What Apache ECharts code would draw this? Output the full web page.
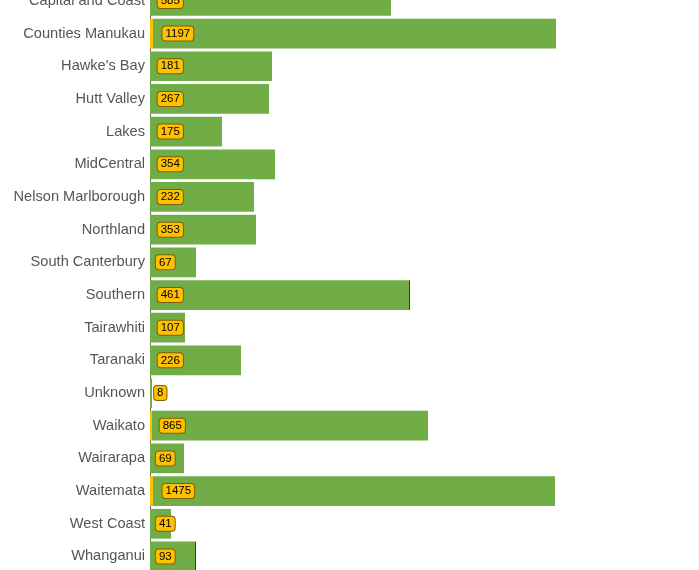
<!DOCTYPE html>
<html>
<head>
<meta charset="utf-8">
<script src="https://cdn.jsdelivr.net/npm/echarts@6/dist/echarts.min.js"></script>
<style>html,body{margin:0;padding:0;background:#fff;}#c{width:699px;height:570px;}</style>
</head>
<body>
<div id="c"></div>
<script>
// Categories (top ones are scrolled out of view in the reference)
var categories = ["Auckland","Bay of Plenty","Canterbury","Capital and Coast","Counties Manukau","Hawke's Bay","Hutt Valley","Lakes","MidCentral","Nelson Marlborough","Northland","South Canterbury","Southern","Tairawhiti","Taranaki","Unknown","Waikato","Wairarapa","Waitemata","West Coast","Whanganui"];
// Stacked bar segments (estimated)
var activeValues    = [3, 0, 0, 0, 3, 0, 0, 0, 0, 0, 0, 0, 0, 0, 0, 0, 2, 0, 3, 0, 0];
var recoveredValues = [420, 150, 260, 241, 403, 122, 119, 72, 125, 104, 106, 46, 259, 35, 91, 2, 276, 34, 402, 21, 45];
var deceasedValues  = [1, 0, 1, 0, 0, 0, 0, 0, 0, 0, 0, 0, 1, 0, 0, 0, 0, 0, 0, 0, 1];
// Label values shown in yellow boxes
var labelValues = [1750, 520, 620, 585, 1197, 181, 267, 175, 354, 232, 353, 67, 461, 107, 226, 8, 865, 69, 1475, 41, 93];

var chart = echarts.init(document.getElementById('c'), null, {renderer: 'canvas'});
var activeData = activeValues.map(function (v, i) {
  var n = String(labelValues[i]).length;
  return { value: v, label: { distance: 2.3 + 1.8 * n } };
});
chart.setOption({
  animation: false,
  grid: { left: 150, top: -113.5, width: 540, height: 686.3, containLabel: false, outerBoundsMode: 'none' },
  xAxis: { type: 'value', min: 0, max: 540, show: false },
  yAxis: {
    type: 'category', data: categories, inverse: true,
    axisLine: { show: true, lineStyle: { color: '#6b6b6b', width: 1 } },
    axisTick: { show: false },
    axisLabel: { color: '#555', fontSize: 14.6, fontFamily: 'Liberation Sans, Arial, sans-serif', margin: 5 }
  },
  series: [
    { name: 'Active', type: 'bar', stack: 't', barCategoryGap: '9%', data: activeData,
      itemStyle: { color: '#FFC000' }, z: 3,
      label: { show: true, position: 'right', formatter: function (p) { return String(labelValues[p.dataIndex]); },
        color: '#000', fontSize: 11.5, fontFamily: 'Liberation Sans, Arial, sans-serif', lineHeight: 12,
        backgroundColor: '#FFC000', borderColor: '#7F6000', borderWidth: 1, borderRadius: 3, padding: [1, 3] } },
    { name: 'Recovered', type: 'bar', stack: 't', barCategoryGap: '9%', data: recoveredValues, itemStyle: { color: '#70AD47' }, z: 2 },
    { name: 'Deceased', type: 'bar', stack: 't', barCategoryGap: '9%', data: deceasedValues, itemStyle: { color: '#C00000' }, z: 2 }
  ]
});
</script>
</body>
</html>
